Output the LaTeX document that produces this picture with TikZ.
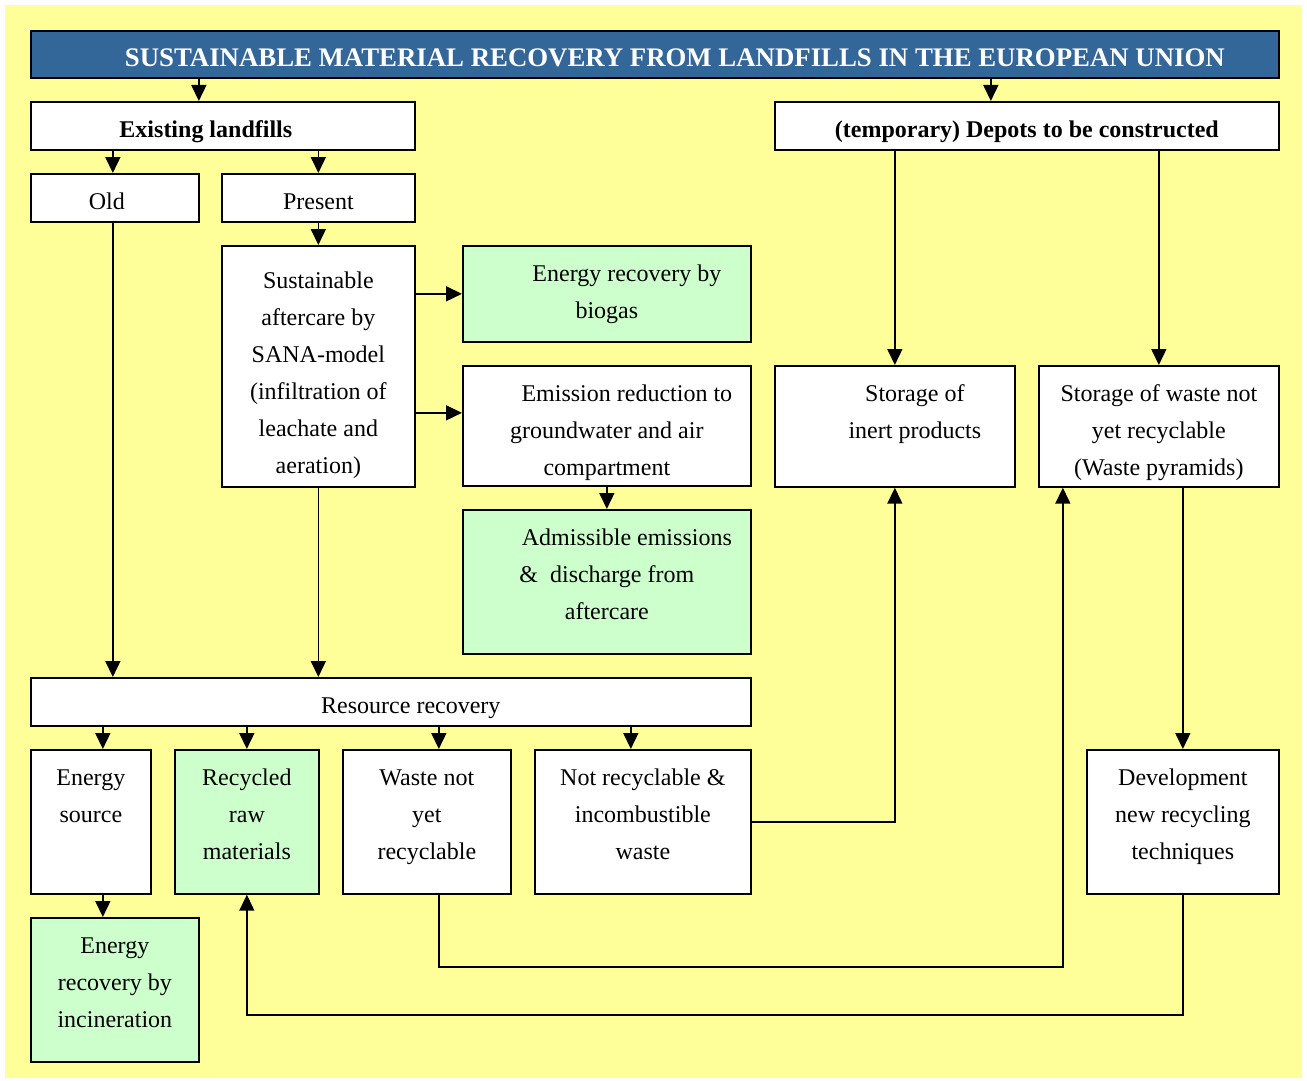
\documentclass[tikz,border=0pt]{standalone}
\usepackage{fontspec}
\setmainfont{Liberation Serif}
\usetikzlibrary{arrows.meta}
\definecolor{Paper}{HTML}{FFFF99}
\definecolor{Header}{HTML}{336699}
\definecolor{Mint}{HTML}{CCFFCC}
\definecolor{Ink}{HTML}{000000}
\newcommand{\boxtext}[4][36pt]{\parbox[c][#3][t]{#2}{\centering\rule{0pt}{#1}#4}}

\begin{document}
\begin{tikzpicture}[x=1pt,y=-1pt,
  every node/.style={font=\fontsize{24}{37}\selectfont,text=Ink},
  box/.style={draw=Ink,line width=1.7pt,fill=white,inner sep=0pt,anchor=north west},
  greenbox/.style={box,fill=Mint},
  arr/.style={draw=Ink,line width=1.6pt,-{Triangle[length=16pt,width=15pt]}}]
\useasboundingbox (0,0) rectangle (1307,1081);
\fill[Paper] (5,5) rectangle (1302,1078);
\node[box,fill=Header,font=\fontsize{26.8}{30}\selectfont\bfseries,text=white] (title) at (30,30) {\boxtext{1248pt}{47pt}{\hspace*{40pt}SUSTAINABLE MATERIAL RECOVERY FROM LANDFILLS IN THE EUROPEAN UNION}};
\node[box,font=\fontsize{24}{37}\selectfont\bfseries] (exist) at (30,101) {\boxtext{384pt}{48pt}{\hspace*{-34pt}Existing landfills}};
\node[box,font=\fontsize{24}{37}\selectfont\bfseries] (depots) at (774,101) {\boxtext{504pt}{48pt}{(temporary) Depots to be constructed}};
\node[box] (old) at (30,173) {\boxtext{168pt}{48pt}{\hspace*{-16pt}Old}};
\node[box] (present) at (221,173) {\boxtext{193pt}{48pt}{Present}};
\node[box] (sana) at (221,245) {\boxtext[43pt]{193pt}{241pt}{Sustainable\\aftercare by\\SANA-model\\(infiltration of\\leachate and\\aeration)}};
\node[greenbox] (biogas) at (462,245) {\boxtext{288pt}{96pt}{\hspace*{40pt}Energy recovery by\\biogas}};
\node[box] (emission) at (462,365) {\boxtext{288pt}{120pt}{\hspace*{40pt}Emission reduction to\\groundwater and air\\compartment}};
\node[greenbox] (admiss) at (462,509) {\boxtext{288pt}{144pt}{\hspace*{40pt}Admissible emissions\\\&\ \ discharge from\\aftercare}};
\node[box] (inert) at (774,365) {\boxtext{240pt}{121pt}{\hspace*{40pt}Storage of\\\hspace*{40pt}inert products}};
\node[box] (pyramid) at (1038,365) {\boxtext{240pt}{121pt}{Storage of waste not\\yet recyclable\\(Waste pyramids)}};
\node[box] (resource) at (30,677) {\boxtext{720pt}{48pt}{\hspace*{40pt}Resource recovery}};
\node[box] (source) at (30,749) {\boxtext{120pt}{144pt}{Energy\\source}};
\node[greenbox] (recycled) at (174,749) {\boxtext{144pt}{144pt}{Recycled\\raw\\materials}};
\node[box] (notyet) at (342,749) {\boxtext{168pt}{144pt}{Waste not\\yet\\recyclable}};
\node[box] (inertwaste) at (534,749) {\boxtext{216pt}{144pt}{Not recyclable \&\\incombustible\\waste}};
\node[box] (develop) at (1086,749) {\boxtext{192pt}{144pt}{Development\\new recycling\\techniques}};
\node[greenbox] (incin) at (30,917) {\boxtext{168pt}{144pt}{Energy\\recovery by\\incineration}};
\draw[arr] ([xshift=-24pt]exist.north |- title.south) -- ([xshift=-24pt]exist.north);
\draw[arr] ([xshift=-36pt]depots.north |- title.south) -- ([xshift=-36pt]depots.north);
\draw[arr] ([xshift=-2pt]old.north |- exist.south) -- ([xshift=-2pt]old.north);
\draw[arr] (present.north |- exist.south) -- (present.north);
\draw[arr] (present.south) -- (sana.north);
\draw[arr] (sana.east |- biogas.west) -- (biogas.west);
\draw[arr] ([yshift=13pt]sana.east |- emission.west) -- ([yshift=13pt]emission.west);
\draw[arr] (emission.south) -- (admiss.north);
\draw[arr] (inert.north |- depots.south) -- (inert.north);
\draw[arr] (pyramid.north |- depots.south) -- (pyramid.north);
\draw[arr] ([xshift=-2pt]old.south) -- ([xshift=-2pt]old.south |- resource.north);
\draw[arr] (sana.south) -- (sana.south |- resource.north);
\foreach \n/\dx in {source/12,recycled/0,notyet/12,inertwaste/-12}
  \draw[arr] ([xshift=\dx pt]\n.north |- resource.south) -- ([xshift=\dx pt]\n.north);
\draw[arr] ([xshift=12pt]source.south) -- ([xshift=12pt]source.south |- incin.north);
\draw[arr] (develop.north |- pyramid.south) -- (develop.north);
\draw[arr] (inertwaste.east) -| (inert.south);
\draw[arr] ([xshift=12pt]notyet.south) -- ++(0,72) -| ([xshift=-96pt]pyramid.south);
\draw[arr] (develop.south) -- ++(0,120) -| (recycled.south);
\end{tikzpicture}
\end{document}
